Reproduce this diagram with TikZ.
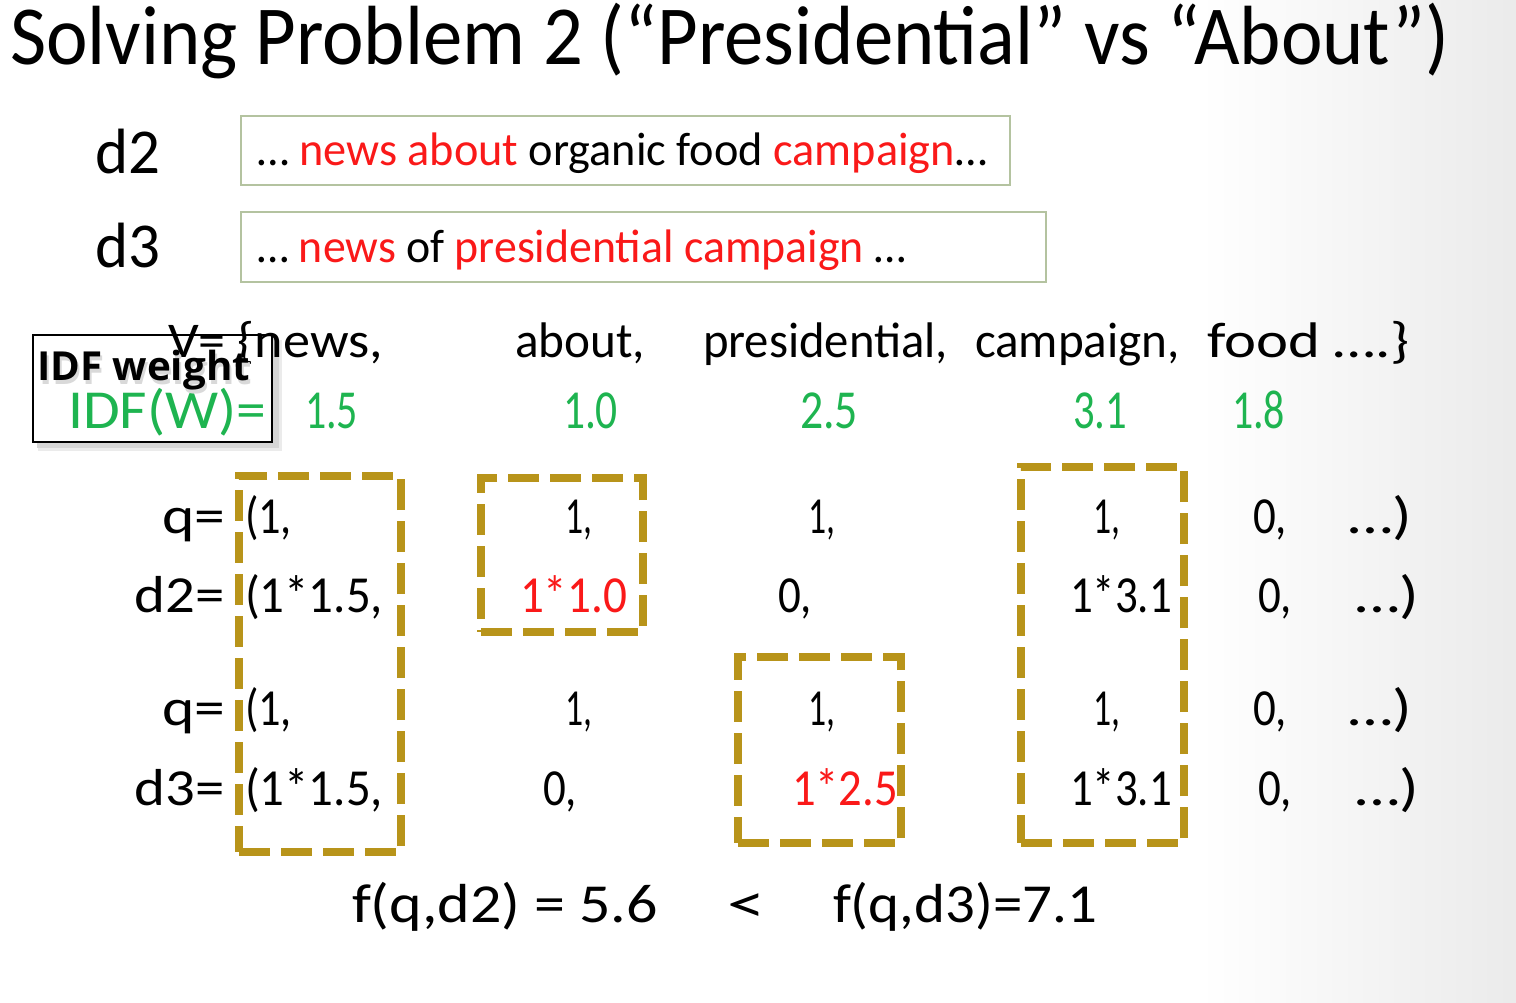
\documentclass[tikz,border=0pt]{standalone}
\usepackage{fontspec}
\setmainfont{Carlito}
\newfontfamily\idffont{Open Sans}
\definecolor{redt}{RGB}{250,25,25}
\definecolor{greent}{RGB}{30,180,80}
\definecolor{goldd}{RGB}{184,148,26}
\definecolor{docgreen}{RGB}{180,195,160}
\newcommand{\fitw}[2]{\resizebox{#1pt}{\height}{#2}}
\begin{document}
\begin{tikzpicture}[x=1pt,y=-1pt,
 txt/.style={anchor=base west, inner sep=0pt, outer sep=0pt},
 txtr/.style={anchor=base east, inner sep=0pt, outer sep=0pt},
 big/.style={font=\fontsize{84}{92}\selectfont},
 dlab/.style={font=\fontsize{64}{72}\selectfont},
 doc/.style={font=\fontsize{47}{54}\selectfont},
 voc/.style={font=\fontsize{50}{58}\selectfont},
 idf/.style={font=\fontsize{55}{62}\selectfont, text=greent},
 vec/.style={font=\fontsize{52}{60}\selectfont},
 res/.style={font=\fontsize{55}{62}\selectfont},
 docbox/.style={draw=docgreen, line width=2.2pt, anchor=north west, inner sep=0pt, outer sep=0pt},
 dashbox/.style={draw=goldd, line width=8pt, dash pattern=on 31pt off 11pt, anchor=north west, inner sep=0pt, outer sep=0pt},
]
\useasboundingbox (0,0) rectangle (1516,1002);
\fill[white] (0,0) rectangle (1516,1002);
\shade[left color=white, right color=black!8] (1200,0) rectangle (1516,1002);

% title
\node[txt, big] (title) at (10,64) {\fitw{1440}{Solving Problem 2 (“Presidential” vs “About”)}};

% documents
\node[txt, dlab] (d2lab) at (95,173) {\fitw{65}{d2}};
\node[txt, dlab] (d3lab) at (95,267) {\fitw{65}{d3}};
\node[docbox, minimum width=769pt, minimum height=69pt] (box2) at (241,116) {};
\node[docbox, minimum width=805pt, minimum height=70pt] (box3) at (241,212) {};
\node[txt, doc] (t2) at (257,165) {\fitw{730}{… \textcolor{redt}{news about} organic food \textcolor{redt}{campaign}…}};
\node[txt, doc] (t3) at (257,262) {\fitw{649}{… \textcolor{redt}{news} of \textcolor{redt}{presidential campaign} …}};

% IDF weight box
\fill[black!8] (38,340) rectangle (282,451);
\fill[black!16] (37,339) rectangle (279,448);
\node[draw=black, line width=2pt, fill=white, minimum width=239pt, minimum height=107pt, anchor=north west, inner sep=0pt, outer sep=0pt] (idfbox) at (33,335) {};

% vocabulary
\node[txt, voc] (vnews) at (168,357) {\fitw{215}{V= \{news,}};
\node[txt, voc] (vabout) at (515,357) {\fitw{130}{about,}};
\node[txt, voc] (vpres) at (703,357) {\fitw{245}{presidential,}};
\node[txt, voc] (vcamp) at (975,357) {\fitw{205}{campaign,}};
\node[txt, voc] (vfood) at (1207,357) {\fitw{203}{food ….\}}};

% IDF values
\node[txt, idf] (idfw) at (68,428) {\fitw{198}{IDF(W)=}};
\node[txt, idf] (i1) at (305,428) {\fitw{53}{1.5}};
\node[txt, idf] (i2) at (563,428) {\fitw{55}{1.0}};
\node[txt, idf] (i3) at (800,428) {\fitw{58}{2.5}};
\node[txt, idf] (i4) at (1073,428) {\fitw{54}{3.1}};
\node[txt, idf] (i5) at (1232,428) {\fitw{53}{1.8}};

% IDF weight label
\node[txt, font=\idffont\bfseries\fontsize{40}{46}\selectfont, text=black!15] (idflabs) at (39,384) {\fitw{213}{IDF weight}};
\node[txt, font=\idffont\bfseries\fontsize{40}{46}\selectfont] (idflab) at (37,380) {\fitw{213}{IDF weight}};

% row q (1)
\node[txtr, vec] (qa) at (225,533) {\fitw{63}{q=}};
\node[txt, vec] (qa1) at (245,533) {\fitw{47}{(1,}};
\node[txt, vec] (qa2) at (565,533) {\fitw{27}{1,}};
\node[txt, vec] (qa3) at (808,533) {\fitw{27}{1,}};
\node[txt, vec] (qa4) at (1093,533) {\fitw{27}{1,}};
\node[txt, vec] (qa5) at (1253,533) {\fitw{34}{0,}};
\node[txt, vec] (qa6) at (1348,533) {\fitw{64}{…)}};

% row d2
\node[txtr, vec] (da) at (225,612) {\fitw{90}{d2=}};
\node[txt, vec] (da1) at (245,612) {\fitw{138}{(1*1.5,}};
\node[txt, vec, text=redt] (da2) at (520,612) {\fitw{107}{1*1.0}};
\node[txt, vec] (da3) at (778,612) {\fitw{34}{0,}};
\node[txt, vec] (da4) at (1070,612) {\fitw{102}{1*3.1}};
\node[txt, vec] (da5) at (1258,612) {\fitw{34}{0,}};
\node[txt, vec] (da6) at (1355,612) {\fitw{64}{…)}};

% row q (2)
\node[txtr, vec] (qb) at (225,725) {\fitw{63}{q=}};
\node[txt, vec] (qb1) at (245,725) {\fitw{47}{(1,}};
\node[txt, vec] (qb2) at (565,725) {\fitw{27}{1,}};
\node[txt, vec] (qb3) at (808,725) {\fitw{27}{1,}};
\node[txt, vec] (qb4) at (1093,725) {\fitw{27}{1,}};
\node[txt, vec] (qb5) at (1253,725) {\fitw{34}{0,}};
\node[txt, vec] (qb6) at (1348,725) {\fitw{64}{…)}};

% row d3
\node[txtr, vec] (db) at (225,805) {\fitw{90}{d3=}};
\node[txt, vec] (db1) at (245,805) {\fitw{138}{(1*1.5,}};
\node[txt, vec] (db2) at (543,805) {\fitw{34}{0,}};
\node[txt, vec, text=redt] (db3) at (792,805) {\fitw{106}{1*2.5}};
\node[txt, vec] (db4) at (1070,805) {\fitw{102}{1*3.1}};
\node[txt, vec] (db5) at (1258,805) {\fitw{34}{0,}};
\node[txt, vec] (db6) at (1355,805) {\fitw{64}{…)}};

% dashed highlight boxes
\node[dashbox, minimum width=162pt, minimum height=376pt] (c1) at (239,476) {};
\node[dashbox, minimum width=162pt, minimum height=154pt] (c2) at (481,478) {};
\node[dashbox, minimum width=163pt, minimum height=186pt] (c3) at (738,657) {};
\node[dashbox, minimum width=163pt, minimum height=376pt] (c4) at (1021,467) {};

% result
\node[txt, res] (f2) at (352,922) {\fitw{306}{f(q,d2) = 5.6}};
\node[txt, res] (lt) at (727,922) {\fitw{38}{<}};
\node[txt, res] (f3) at (833,922) {\fitw{264}{f(q,d3)=7.1}};
\end{tikzpicture}
\end{document}
